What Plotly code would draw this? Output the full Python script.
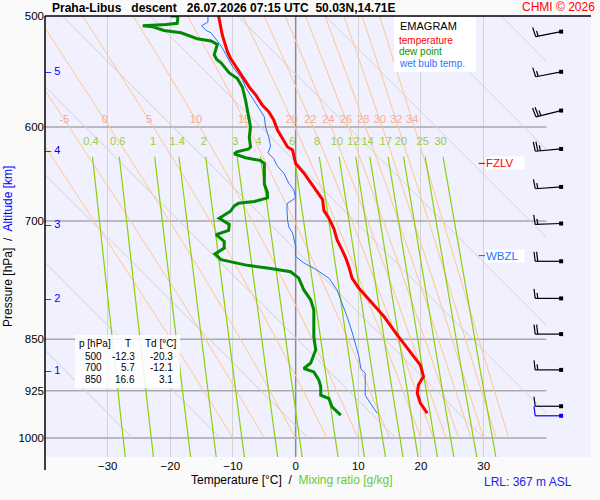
import numpy as np
import plotly.graph_objects as go

# descent profile: pressure [hPa], temperature [degC]
temp_p = [500, 506, 516, 523, 530, 536, 543, 552, 562, 569, 579, 585, 593, 603, 611, 620, 623, 637, 647, 662,
          676, 688, 697, 709, 722, 734, 744, 755, 769, 782, 799, 819, 844, 868, 887, 904, 916, 929, 944, 960]
temp_t = [-12.3, -12.1, -11.7, -11.3, -10.9, -10.4, -9.6, -8.5, -7.4, -6.4, -5.3, -4.3, -3.5, -2.9, -2.1, -1.3, -0.5, 0.0, 1.3, 2.9,
          4.3, 4.5, 5.3, 6.1, 6.6, 7.4, 8.0, 8.5, 9.0, 10.1, 11.9, 14.1, 16.2, 18.3, 19.9, 20.4, 19.6, 19.4, 19.9, 21.0]

dew_p = [500, 500, 502, 506, 507, 508, 508, 509, 512, 514, 519, 521, 524, 533, 537, 540, 545, 549, 554, 562,
         574, 584, 593, 600, 610, 620, 622, 625, 627, 631, 634, 637, 659, 668, 674, 678, 680, 683, 689, 697,
         704, 711, 716, 724, 732, 739, 746, 753, 757, 761, 769, 784, 797, 810, 828, 847, 865, 884, 892, 897,
         909, 919, 932, 937, 950, 963]
dew_t = [-19.9, -18.9, -18.8, -18.9, -20.7, -23.1, -24.4, -22.8, -21.0, -18.3, -15.7, -13.5, -12.5, -13.0, -12.6, -11.9, -11.1, -10.6, -9.3, -8.5,
         -8.0, -7.7, -7.4, -7.2, -7.4, -7.2, -7.5, -9.4, -9.8, -8.0, -5.6, -5.0, -5.0, -4.5, -4.5, -6.6, -9.1, -9.8, -10.4, -12.2,
         -10.6, -10.7, -12.7, -11.4, -11.4, -12.9, -11.9, -7.7, -4.0, -0.8, 0.5, 1.3, 2.4, 2.9, 2.9, 2.9, 3.2, 2.4, 1.3, 2.9,
         3.7, 4.0, 4.0, 5.3, 5.8, 7.2]

wet_p = [500, 505, 508, 512, 514, 519, 523, 527, 535, 543, 549, 555, 562, 569, 577, 584, 590, 600, 610, 619,
         626, 632, 640, 647, 658, 665, 674, 680, 684, 699, 707, 714, 730, 742, 750, 758, 765, 769, 784, 801,
         819, 840, 861, 875, 892, 899, 919, 932, 944, 960]
wet_t = [-14.0, -14.0, -15.0, -14.3, -13.5, -12.7, -12.2, -11.7, -10.9, -10.1, -9.3, -8.5, -8.0, -7.2, -6.4, -5.6, -5.0, -4.8, -4.3, -4.0,
         -4.4, -3.5, -2.9, -1.9, -1.1, -0.3, 0.0, -1.3, -1.4, -1.3, -1.1, -0.5, 0.0, 0.0, 1.3, 3.2, 4.5, 5.3, 6.6, 7.4,
         8.2, 9.0, 9.6, 10.1, 10.4, 11.1, 11.1, 11.1, 11.9, 13.0]

# altitude marks [km] and where they sit on the pressure axis
alt_km = [1, 2, 3, 4, 5]
alt_p = [896, 796, 705, 624, 548]

fzlv_p = 637
wbzl_p = 741

# summary table
table_p = [500, 700, 850]
table_t = [-12.3, 5.7, 16.6]
table_td = [-20.3, -12.1, 3.1]

# wind barbs
wind_p = [513, 548, 584, 622, 662, 703, 748, 795, 843, 894, 949, 964]
wind_dir = [259, 259, 256, 265, 266, 268, 270, 270, 270, 270, 270, 270]
wind_kt = [15, 15, 25, 25, 15, 15, 20, 15, 20, 15, 10, 10]
wind_col = ["black"] * 11 + ["#0000ff"]

# background diagram
isotherms = [-30, -20, -10, 0, 10, 20, 30]
isobars = [600, 700, 850, 925, 1000]
mix_ratios = [0.4, 0.6, 1, 1.4, 2, 3, 4, 6, 8, 10, 12, 14, 17, 20, 25, 30]
moist_thw = [-10, -5, 0, 5, 10, 15, 20, 22, 24, 26, 28, 30, 32, 34]
dry_t0 = [-26, -12, 2, 16, 30, 44, 58, 72, 86, 100]

FONT = "Liberation Sans, Arial, sans-serif"
P_TOP, P_BOTTOM = 500, 1031.5
T_LEFT, T_RIGHT = -40, 47.13


def mix_temp(w, p):
    e = w * p / (622.0 + w)
    a = np.log(e / 6.112)
    return 243.5 * a / (17.67 - a)


def lapse(t, p):
    es = 6.112 * np.exp(17.67 * (t - 273.15) / (t - 29.65))
    rs = 0.622 * es / (p - es)
    return (287.04 * t + 2.501e6 * rs) / (1005.7 + 2.501e6 ** 2 * rs * 0.622 / (287.04 * t ** 2))


def moist(thw, p):
    t = thw + 273.15
    out = [t]
    for p0, p1 in zip(p[:-1], p[1:]):
        h = np.log(p1 / p0)
        pm = np.sqrt(p0 * p1)
        k1 = lapse(t, p0)
        k2 = lapse(t + h * k1 / 2, pm)
        k3 = lapse(t + h * k2 / 2, pm)
        k4 = lapse(t + h * k3, p1)
        t = t + h * (k1 + 2 * k2 + 2 * k3 + k4) / 6
        out.append(t)
    return np.array(out) - 273.15


fig = go.Figure()


def line(x, y, color, width):
    fig.add_trace(go.Scatter(x=x, y=y, mode="lines", line=dict(color=color, width=width),
                             hoverinfo="skip", showlegend=False))


def text(x, y, labels, color, size, pos="middle center"):
    fig.add_trace(go.Scatter(x=x, y=y, mode="text", text=labels, textposition=pos,
                             textfont=dict(color=color, size=size, family=FONT),
                             hoverinfo="skip", showlegend=False, cliponaxis=False))


# isotherm 0 and isobars
line([0, 0], [P_TOP, P_BOTTOM], "#8c8c8c", 1.5)
for p in isobars:
    line([-40, 40], [p, p], "#a9a9a9", 1.5)

# dry lines (grey)
pp = np.geomspace(1000, 500, 150)
for t0 in dry_t0:
    t = t0 + 97 * np.log(pp / 1000)
    t[t > 40] = np.nan
    line(t, pp, "#d2d2d2", 1)

# moist adiabats (orange)
lab_t = []
for thw in moist_thw:
    t = moist(thw, pp)
    line(t, pp, "#ffc68f", 1)
    lab_t.append(np.interp(593, pp[::-1], t[::-1]))
text(lab_t[1:], [593] * (len(moist_thw) - 1), [str(v) for v in moist_thw[1:]], "#f9ab95", 11)

# mixing ratio lines (green)
pm = np.geomspace(630, P_BOTTOM, 60)
for w in mix_ratios:
    line(mix_temp(w, pm), pm, "#8ccf0a", 1.2)
text([mix_temp(w, 615) for w in mix_ratios], [615] * len(mix_ratios),
     [f"{w:g}" for w in mix_ratios], "#9ccd45", 11)

# profiles
line(wet_t, wet_p, "#2a72ff", 1)
line(dew_t, dew_p, "#008a00", 3)
line(temp_t, temp_p, "#ff0000", 3)

# altitude marks
text([-40] * len(alt_km), alt_p, [f"– {k}" for k in alt_km], "#0000ff", 11, "middle right")

# freezing level / wet bulb zero marks
line([29.2, 30.2], [fzlv_p, fzlv_p], "#ff0000", 1.2)
line([29.2, 30.2], [wbzl_p, wbzl_p], "#2a72ff", 1.2)

# wind barbs
T_DOT = 42.36
for col in ["black", "#0000ff"]:
    bx, by = [], []
    for p0, d, s, c in zip(wind_p, wind_dir, wind_kt, wind_col):
        if c != col:
            continue
        a = np.radians(d)
        ux, uy = np.sin(a), np.cos(a)
        segs = [((0, 0), (26 * ux, 26 * uy))]
        lens = [9.5] * (s // 10) + ([5.5] if s % 10 >= 5 else [])
        for i, L in enumerate(lens):
            bx0, by0 = (26 - 2.6 * i) * ux, (26 - 2.6 * i) * uy
            segs.append(((bx0, by0), (bx0 + L * uy + 0.12 * L * ux, by0 - L * ux + 0.12 * L * uy)))
        for (x0, y0), (x1, y1) in segs:
            bx += [T_DOT + x0 / 6.28, T_DOT + x1 / 6.28, None]
            by += [p0 * np.exp(-y0 / 609), p0 * np.exp(-y1 / 609), None]
    line(bx, by, col, 1.2)
    sel = [p for p, c in zip(wind_p, wind_col) if c == col]
    fig.add_trace(go.Scatter(x=[T_DOT] * len(sel), y=sel, mode="markers",
                             marker=dict(symbol="square", size=4, color=col, line=dict(width=0)),
                             hoverinfo="skip", showlegend=False, cliponaxis=False))


def px(x):
    return (x - 45) / 546


def py(y):
    return (457 - y) / 441


ann = []


def note(x, y, s, color="black", size=11, xa="left", bold=False, **kw):
    ann.append(dict(x=px(x), y=py(y), xref="paper", yref="paper", text=f"<b>{s}</b>" if bold else s,
                    showarrow=False, xanchor=xa, yanchor="middle",
                    font=dict(color=color, size=size, family=FONT), **kw))


note(50, 8, "Praha-Libus&nbsp;&nbsp; descent&nbsp;&nbsp; 26.07.2026 07:15 UTC&nbsp;&nbsp;50.03N,14.71E", size=12, bold=True)
note(597, 7, "CHMI © 2026", "#ff0000", 12, "right")
note(398, 26, "EMAGRAM", size=11)
note(398, 40.5, "temperature", "#ff0000", 10, borderpad=0)
note(398, 51.8, "dew point", "#009a00", 10, borderpad=0)
note(398, 63.1, "wet bulb temp.", "#2a72ff", 10, borderpad=0)

note(78, 343.5, "p [hPa]", size=10, borderpad=0)
note(128, 343.5, "T", size=10, xa="center", borderpad=0)
note(177, 343.5, "Td [°C]", size=10, xa="right", borderpad=0)
for i, (p, t, td) in enumerate(zip(table_p, table_t, table_td)):
    y = 356.5 + 11.3 * i
    note(102.5, y, str(p), size=10, xa="right", borderpad=0)
    note(135.5, y, f"{t:.1f}", size=10, xa="right", borderpad=0)
    note(174, y, f"{td:.1f}", size=10, xa="right", borderpad=0)

note(292, 479.5, 'Temperature [°C]&nbsp; /&nbsp; <span style="color:#66cc33">Mixing ratio [g/kg]</span>',
     size=12, xa="center")
note(482, 481.5, "LRL: 367 m ASL", "#2222ee", 12)
ann.append(dict(x=px(8), y=py(247), xref="paper", yref="paper", showarrow=False, textangle=-90,
                xanchor="center", yanchor="middle",
                text='Pressure [hPa]&nbsp; /&nbsp; <span style="color:#0000ff">Altitude [km]</span>',
                font=dict(size=12, family=FONT, color="black")))

for p, s, c in [(fzlv_p, "FZLV", "#ff0000"), (wbzl_p, "WBZL", "#2a72ff")]:
    ann.append(dict(x=30.25, y=np.log10(p), xref="x", yref="y", text=s, showarrow=False,
                    xanchor="left", yanchor="middle", width=38, align="left", bgcolor="white",
                    borderpad=0, font=dict(color=c, size=11.5, family=FONT)))

shapes = [
    dict(type="rect", xref="paper", yref="paper", x0=px(394), x1=px(476), y0=py(72), y1=py(17),
         fillcolor="white", line=dict(width=0), layer="above"),
    dict(type="rect", xref="paper", yref="paper", x0=px(75), x1=px(180), y0=py(388), y1=py(335),
         fillcolor="rgba(255,255,255,0.85)", line=dict(width=0), layer="above"),
    dict(type="line", xref="paper", yref="paper", x0=0, x1=1, y0=1, y1=1,
         line=dict(color="black", width=1.5), layer="above"),
    dict(type="line", xref="paper", yref="paper", x0=0, x1=0, y0=py(470), y1=1,
         line=dict(color="black", width=1.5), layer="above"),
]

fig.update_layout(
    width=600, height=500, autosize=False,
    margin=dict(l=45, r=9, t=16, b=43, pad=0),
    paper_bgcolor="#fafafa", plot_bgcolor="#f0f0fe",
    showlegend=False,
    annotations=ann, shapes=shapes,
    font=dict(family=FONT, color="black"),
    xaxis=dict(range=[T_LEFT, T_RIGHT], tickvals=isotherms, showgrid=True, gridcolor="#d3d3d3",
               gridwidth=1, zeroline=False, showline=False, ticks="", tickfont=dict(size=11.5)),
    yaxis=dict(type="log", range=[np.log10(P_BOTTOM), np.log10(P_TOP)],
               tickvals=[500, 600, 700, 850, 925, 1000],
               ticktext=["500", "600", "700", "850", "925", "1000"],
               showgrid=False, zeroline=False, showline=False, ticks="", tickfont=dict(size=11.5)),
)

# the page's default body margin would shift the chart by 8 px
fig.write_html("out.html", config={"displayModeBar": False},
               post_script="document.body.style.margin='0px';")
